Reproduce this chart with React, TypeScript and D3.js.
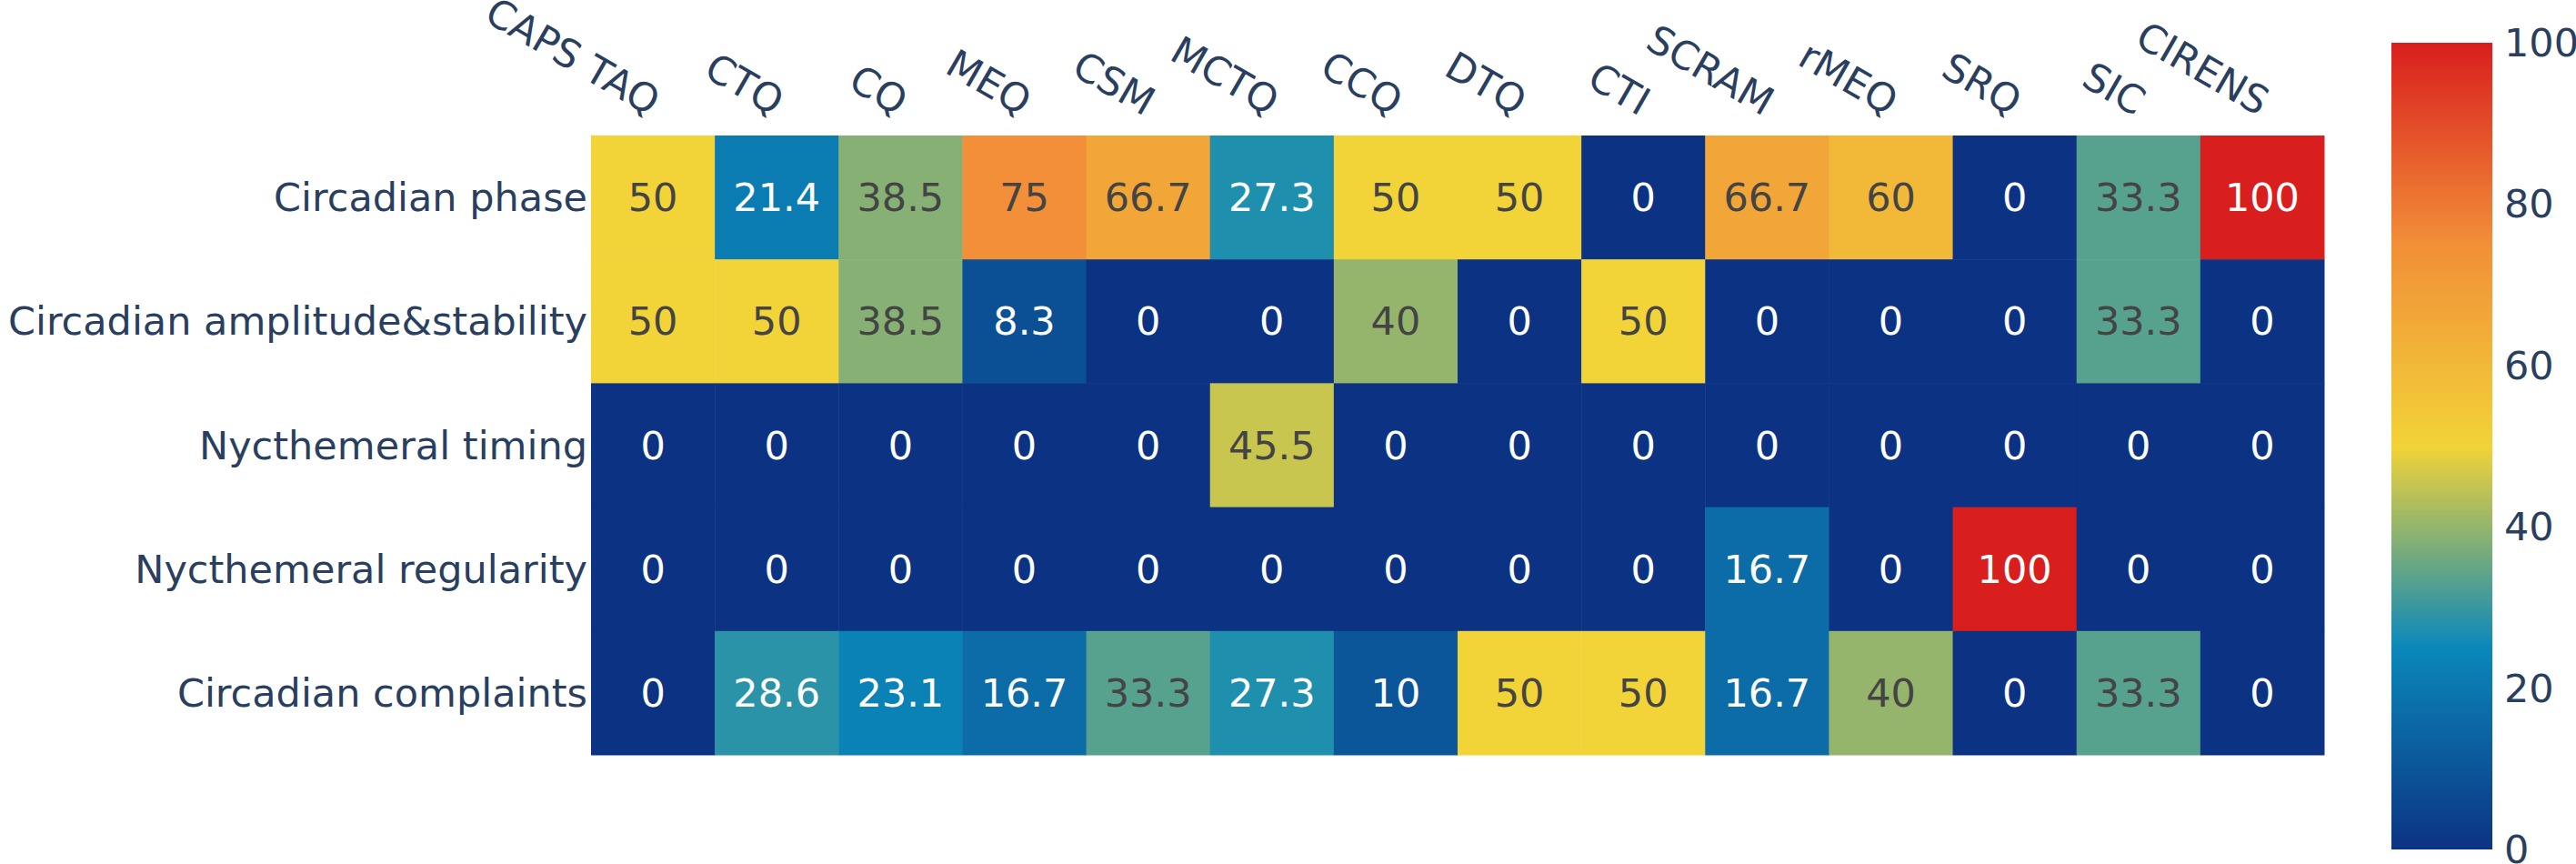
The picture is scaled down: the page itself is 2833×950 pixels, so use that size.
import React from "react";
import * as d3 from "d3";

const instruments = ["CAPS TAQ", "CTQ", "CQ", "MEQ", "CSM", "MCTQ", "CCQ", "DTQ", "CTI", "SCRAM", "rMEQ", "SRQ", "SIC", "CIRENS"];
const dimensions = ["Circadian phase", "Circadian amplitude&stability", "Nycthemeral timing", "Nycthemeral regularity", "Circadian complaints"];

const circadianPhase = [50, 21.4, 38.5, 75, 66.7, 27.3, 50, 50, 0, 66.7, 60, 0, 33.3, 100];
const amplitudeStability = [50, 50, 38.5, 8.3, 0, 0, 40, 0, 50, 0, 0, 0, 33.3, 0];
const nycthemeralTiming = [0, 0, 0, 0, 0, 45.5, 0, 0, 0, 0, 0, 0, 0, 0];
const nycthemeralRegularity = [0, 0, 0, 0, 0, 0, 0, 0, 0, 16.7, 0, 100, 0, 0];
const circadianComplaints = [0, 28.6, 23.1, 16.7, 33.3, 27.3, 10, 50, 50, 16.7, 40, 0, 33.3, 0];

const rowsData = [circadianPhase, amplitudeStability, nycthemeralTiming, nycthemeralRegularity, circadianComplaints];

const colorTicks = [0, 20, 40, 60, 80, 100];

// Portland colorscale
const portlandStops = [0, 0.25, 0.5, 0.75, 1];
const portlandColors = ["rgb(12,51,131)", "rgb(10,136,186)", "rgb(242,211,56)", "rgb(242,143,56)", "rgb(217,30,30)"];

const W = 2833;
const H = 950;
const FONT = "'DejaVu Sans', Verdana, sans-serif";
const FS = 43;
const LABEL = "rgb(42,63,95)";

export default function App() {
  const plot = { left: 650, right: 2556, top: 149, bottom: 830 };
  const x = d3.scaleBand<string>().domain(instruments).range([plot.left, plot.right]);
  const y = d3.scaleBand<string>().domain(dimensions).range([plot.top, plot.bottom]);
  const color = d3
    .scaleLinear<string>()
    .domain(portlandStops.map((s) => s * 100))
    .range(portlandColors)
    .interpolate(d3.interpolateRgb)
    .clamp(true);

  const cb = { left: 2630, right: 2741, top: 47, bottom: 934 };
  const cbScale = d3.scaleLinear().domain([0, 100]).range([cb.bottom, cb.top]);

  const textColor = (v: number) => {
    const c = d3.rgb(color(v));
    const brightness = (c.r * 299 + c.g * 587 + c.b * 114) / 1000;
    return brightness > 128 ? "rgb(68,68,68)" : "#ffffff";
  };

  const fmt = (v: number) => String(v);

  return (
    <svg
      width={W}
      height={H}
      style={{ position: "absolute", left: 0, top: 0, display: "block", background: "#fff" }}
      fontFamily={FONT}
    >
      <defs>
        <linearGradient id="cbgrad" x1="0" y1="1" x2="0" y2="0">
          {portlandStops.map((s, i) => (
            <stop key={i} offset={`${s * 100}%`} stopColor={portlandColors[i]} />
          ))}
        </linearGradient>
      </defs>

      {/* cells */}
      {rowsData.map((row, ri) =>
        row.map((v, ci) => (
          <rect
            key={`c-${ri}-${ci}`}
            x={x(instruments[ci])!}
            y={y(dimensions[ri])!}
            width={x.bandwidth() + 0.5}
            height={y.bandwidth() + 0.5}
            fill={color(v)}
          />
        ))
      )}

      {/* cell texts */}
      {rowsData.map((row, ri) =>
        row.map((v, ci) => (
          <text
            key={`t-${ri}-${ci}`}
            x={x(instruments[ci])! + x.bandwidth() / 2}
            y={y(dimensions[ri])! + y.bandwidth() / 2}
            textAnchor="middle"
            dominantBaseline="central"
            fontSize={FS}
            fill={textColor(v)}
          >
            {fmt(v)}
          </text>
        ))
      )}

      {/* row labels */}
      {dimensions.map((d) => (
        <text
          key={`r-${d}`}
          x={plot.left - 4}
          y={y(d)! + y.bandwidth() / 2}
          textAnchor="end"
          dominantBaseline="central"
          fontSize={FS}
          fill={LABEL}
        >
          {d}
        </text>
      ))}

      {/* column labels */}
      {instruments.map((c) => {
        const cx = x(c)! + x.bandwidth() / 2 - 4;
        const cy = 128;
        return (
          <text
            key={`col-${c}`}
            transform={`translate(${cx},${cy}) rotate(30)`}
            textAnchor="end"
            fontSize={FS}
            fill={LABEL}
          >
            {c}
          </text>
        );
      })}

      {/* colorbar */}
      <rect x={cb.left} y={cb.top} width={cb.right - cb.left} height={cb.bottom - cb.top} fill="url(#cbgrad)" />
      {colorTicks.map((t) => (
        <text
          key={`cb-${t}`}
          x={2754}
          y={cbScale(t)}
          dominantBaseline="central"
          fontSize={FS}
          fill={LABEL}
        >
          {t}
        </text>
      ))}
    </svg>
  );
}
